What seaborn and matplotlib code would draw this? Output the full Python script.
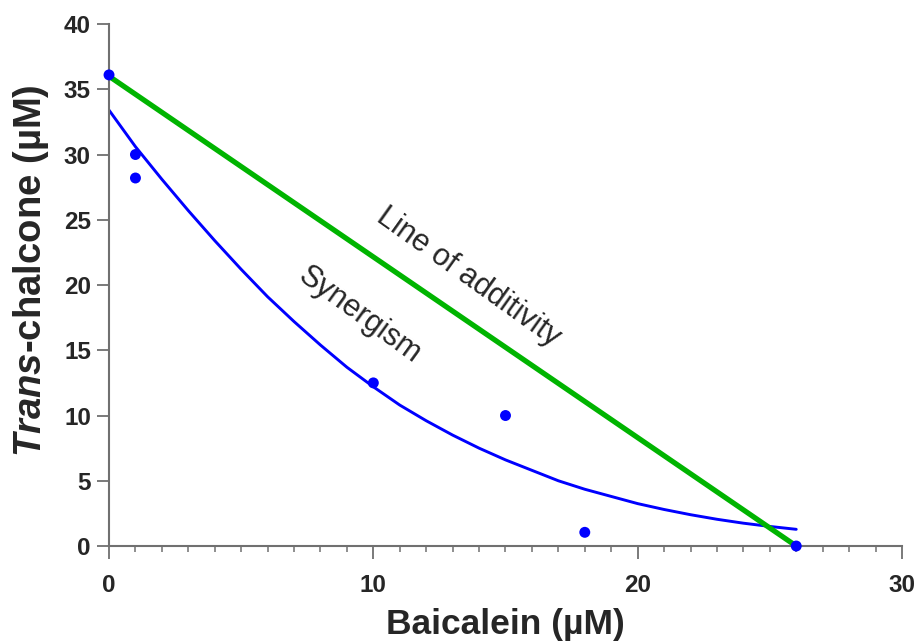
import matplotlib
matplotlib.use("Agg")
import matplotlib.pyplot as plt
from matplotlib.ticker import MultipleLocator
import seaborn as sns
import pandas as pd

# Data
baicalein_pts = [0, 1, 1, 10, 15, 18, 26]
chalcone_pts = [36.1, 30.0, 28.2, 12.5, 10.0, 1.05, 0.0]

additivity_x = [0, 26]
additivity_y = [36.0, 0.0]

synergy_x = [0, 1, 2, 3, 4, 5, 6, 7, 8, 9, 10, 11, 12, 13, 14, 15, 16,
             17, 18, 19, 20, 21, 22, 23, 24, 25, 26]
synergy_y = [33.4, 30.6, 28.1, 25.7, 23.4, 21.2, 19.1, 17.2, 15.4, 13.7,
             12.2, 10.8, 9.6, 8.5, 7.5, 6.6, 5.8, 5.0, 4.35, 3.8, 3.25,
             2.8, 2.4, 2.05, 1.75, 1.5, 1.28]

sns.set_theme(style="ticks")
plt.rcParams['font.family'] = ['Liberation Sans', 'DejaVu Sans']
plt.rcParams['mathtext.fontset'] = 'custom'
plt.rcParams['mathtext.it'] = 'Liberation Sans:italic:bold'
plt.rcParams['mathtext.rm'] = 'Liberation Sans:bold'

fig = plt.figure(figsize=(9.2, 6.42), dpi=100)
ax = fig.add_axes([0.1185, 0.1495, 0.8619, 0.8131])

pts = pd.DataFrame({"x": baicalein_pts, "y": chalcone_pts})
add = pd.DataFrame({"x": additivity_x, "y": additivity_y})
syn = pd.DataFrame({"x": synergy_x, "y": synergy_y})

sns.lineplot(data=syn, x="x", y="y", ax=ax, color="#0000FF", lw=2.1,
             sort=True, estimator=None, zorder=2)
sns.lineplot(data=add, x="x", y="y", ax=ax, color="#00B400", lw=3.8,
             estimator=None, zorder=3)
sns.scatterplot(data=pts, x="x", y="y", ax=ax, color="#0000FF", s=62,
                edgecolor="none", zorder=4, clip_on=False)

ax.set_xlim(0, 30)
ax.set_ylim(0, 40)
ax.xaxis.set_major_locator(MultipleLocator(10))
ax.xaxis.set_minor_locator(MultipleLocator(1))
ax.yaxis.set_major_locator(MultipleLocator(5))

for s in ["top", "right"]:
    ax.spines[s].set_visible(False)
for s in ["left", "bottom"]:
    ax.spines[s].set_color("#707070")
    ax.spines[s].set_linewidth(1.5)

ax.tick_params(axis="x", which="major", length=9, width=1.3, color="#707070",
               labelsize=17.5, pad=11)
ax.tick_params(axis="x", which="minor", length=4.5, width=1.1, color="#707070")
ax.tick_params(axis="y", which="major", length=9, width=1.3, color="#707070",
               labelsize=17.5, pad=4)
for lab in ax.get_xticklabels() + ax.get_yticklabels():
    lab.set_fontweight("bold")

ax.set_xlabel("Baicalein (µM)", fontsize=25.5, fontweight="bold", labelpad=8)
ax.set_ylabel(r"$\mathit{Trans}$-chalcone (µM)", fontsize=27.5,
              fontweight="bold")
ax.yaxis.set_label_coords(-0.073, 0.528)

ax.text(13.6, 20.6, "Line of additivity", fontsize=22, rotation=-35.5,
        ha="center", va="center", rotation_mode="anchor")
ax.text(9.5, 17.7, "Synergism", fontsize=22, rotation=-36,
        ha="center", va="center", rotation_mode="anchor")

fig.savefig("out.png", dpi=100)
